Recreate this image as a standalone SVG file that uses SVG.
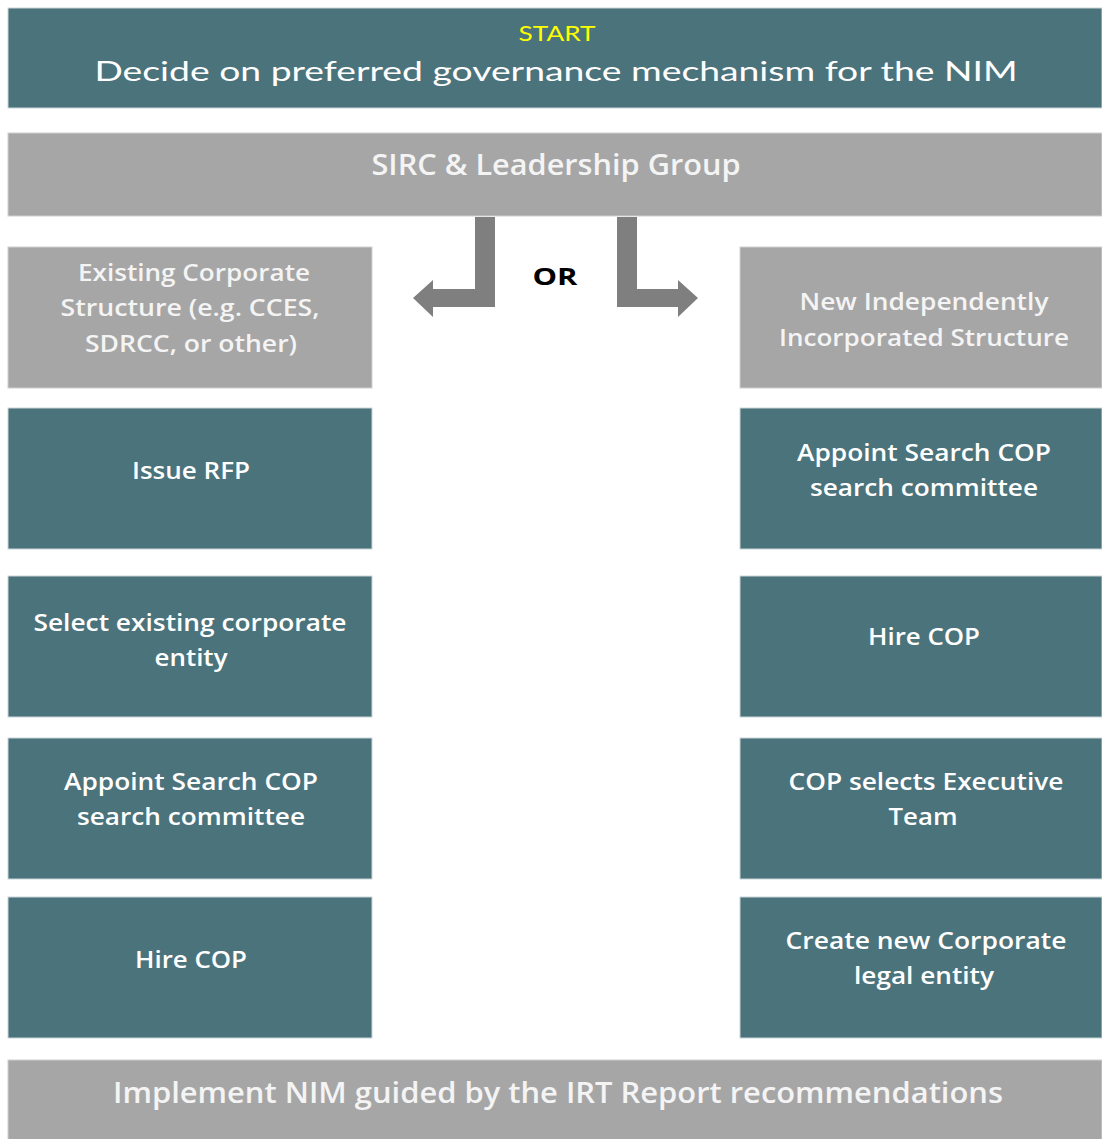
<svg xmlns="http://www.w3.org/2000/svg" width="1102" height="1139" viewBox="0 0 1102 1139">
<style>
.teal{fill:#4b737c;stroke:#c9d5d8;stroke-width:1}
.gray{fill:#a6a6a6;stroke:#d0d0d0;stroke-width:1}
.arrow{fill:#7f7f7f}
text{font-family:"Open Sans","Noto Sans","DejaVu Sans",sans-serif;text-anchor:middle}
.t{fill:#ffffff;font-size:23px;font-weight:600}
.g{fill:#f4f4f4;font-size:23px;font-weight:600}
.head{font-family:Lato,"Open Sans",sans-serif;fill:#ffffff;font-size:27px}
.start{font-family:Lato,"Open Sans",sans-serif;fill:#ffff00;font-size:22px}
.or{fill:#000000;font-size:24px;font-weight:bold}
</style>
<rect width="1102" height="1139" fill="#ffffff"/>
<g id="connectors">
<polygon class="arrow" points="495,217 495,307 433,307 433,317 413,298 433,280 433,289 475,289 475,217"/>
<polygon class="arrow" points="617,217 637,217 637,289 678,289 678,280 698,298 678,317 678,307 617,307"/>
<text class="or" x="555" y="285" textLength="45" lengthAdjust="spacingAndGlyphs">OR</text>
</g>
<g id="start">
<rect class="teal" x="8" y="8" width="1094" height="100"/>
<text class="start" x="557" y="41" textLength="77" lengthAdjust="spacingAndGlyphs">START</text>
<text class="head" x="556" y="81" textLength="923" lengthAdjust="spacingAndGlyphs">Decide on preferred governance mechanism for the NIM</text>
</g>
<g id="sirc">
<rect class="gray" x="8" y="133" width="1094" height="83"/>
<text class="g" x="556" y="175" style="font-size:28px" textLength="369" lengthAdjust="spacingAndGlyphs">SIRC &amp; Leadership Group</text>
</g>
<g id="existing">
<rect class="gray" x="8" y="247" width="364" height="141"/>
<text class="g" x="194" y="281" textLength="232" lengthAdjust="spacingAndGlyphs">Existing Corporate</text>
<text class="g" x="190" y="316" textLength="259" lengthAdjust="spacingAndGlyphs">Structure (e.g. CCES,</text>
<text class="g" x="191" y="352" textLength="212" lengthAdjust="spacingAndGlyphs">SDRCC, or other)</text>
</g>
<g id="new-independent">
<rect class="gray" x="740" y="247" width="362" height="141"/>
<text class="g" x="924" y="310" textLength="249" lengthAdjust="spacingAndGlyphs">New Independently</text>
<text class="g" x="924" y="346" textLength="290" lengthAdjust="spacingAndGlyphs">Incorporated Structure</text>
</g>
<g id="issue-rfp">
<rect class="teal" x="8" y="408" width="364" height="141"/>
<text class="t" x="191" y="479" textLength="118" lengthAdjust="spacingAndGlyphs">Issue RFP</text>
</g>
<g id="appoint-right">
<rect class="teal" x="740" y="408" width="362" height="141"/>
<text class="t" x="924" y="461" textLength="254" lengthAdjust="spacingAndGlyphs">Appoint Search COP</text>
<text class="t" x="924" y="496" textLength="228" lengthAdjust="spacingAndGlyphs">search committee</text>
</g>
<g id="select-existing">
<rect class="teal" x="8" y="576" width="364" height="141"/>
<text class="t" x="190" y="631" textLength="313" lengthAdjust="spacingAndGlyphs">Select existing corporate</text>
<text class="t" x="191" y="666" textLength="73" lengthAdjust="spacingAndGlyphs">entity</text>
</g>
<g id="hire-right">
<rect class="teal" x="740" y="576" width="362" height="141"/>
<text class="t" x="924" y="645" textLength="112" lengthAdjust="spacingAndGlyphs">Hire COP</text>
</g>
<g id="appoint-left">
<rect class="teal" x="8" y="738" width="364" height="141"/>
<text class="t" x="191" y="790" textLength="254" lengthAdjust="spacingAndGlyphs">Appoint Search COP</text>
<text class="t" x="191" y="825" textLength="228" lengthAdjust="spacingAndGlyphs">search committee</text>
</g>
<g id="cop-selects">
<rect class="teal" x="740" y="738" width="362" height="141"/>
<text class="t" x="926" y="790" textLength="275" lengthAdjust="spacingAndGlyphs">COP selects Executive</text>
<text class="t" x="923" y="825" textLength="69" lengthAdjust="spacingAndGlyphs">Team</text>
</g>
<g id="hire-left">
<rect class="teal" x="8" y="897" width="364" height="141"/>
<text class="t" x="191" y="968" textLength="112" lengthAdjust="spacingAndGlyphs">Hire COP</text>
</g>
<g id="create-entity">
<rect class="teal" x="740" y="897" width="362" height="141"/>
<text class="t" x="926" y="949" textLength="281" lengthAdjust="spacingAndGlyphs">Create new Corporate</text>
<text class="t" x="924" y="984" textLength="140" lengthAdjust="spacingAndGlyphs">legal entity</text>
</g>
<g id="implement">
<rect class="gray" x="8" y="1060" width="1094" height="80"/>
<text class="g" x="558" y="1103" style="font-size:28px" textLength="890" lengthAdjust="spacingAndGlyphs">Implement NIM guided by the IRT Report recommendations</text>
</g>
</svg>
